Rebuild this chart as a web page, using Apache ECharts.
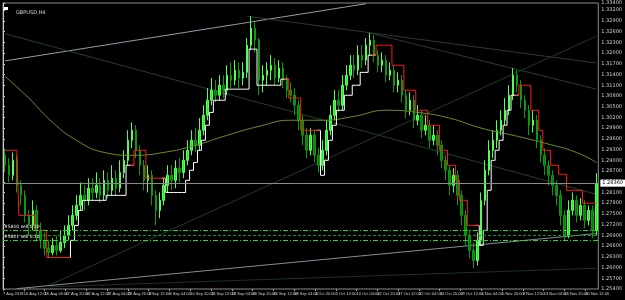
<!DOCTYPE html>
<html>
<head>
<meta charset="utf-8">
<script src="https://cdn.jsdelivr.net/npm/echarts@6/dist/echarts.min.js"></script>
<style>
html, body { margin: 0; padding: 0; background: #000; }
#chart { width: 625px; height: 300px; }
</style>
</head>
<body>
<div id="chart"></div>
<script>
'use strict';

// GBPUSD,H4 - prices, [open, close, low, high]
var candles = [
[1.2914,1.2886,1.2866,1.2934],[1.2886,1.2858,1.2838,1.2906],[1.2858,1.2900,1.2844,1.2922],[1.2900,1.2830,1.2810,1.2914],
[1.2830,1.2802,1.2774,1.2844],[1.2802,1.2746,1.2726,1.2816],[1.2746,1.2718,1.2690,1.2760],[1.2718,1.2760,1.2704,1.2788],
[1.2760,1.2704,1.2676,1.2774],[1.2704,1.2676,1.2654,1.2726],[1.2676,1.2654,1.2634,1.2698],[1.2654,1.2642,1.2626,1.2676],
[1.2642,1.2662,1.2634,1.2682],[1.2662,1.2648,1.2634,1.2690],[1.2648,1.2670,1.2642,1.2704],[1.2670,1.2690,1.2654,1.2718],
[1.2690,1.2718,1.2676,1.2746],[1.2718,1.2746,1.2704,1.2774],[1.2746,1.2774,1.2732,1.2802],[1.2774,1.2802,1.2760,1.2838],
[1.2802,1.2788,1.2760,1.2830],[1.2788,1.2822,1.2774,1.2850],[1.2822,1.2810,1.2788,1.2850],[1.2810,1.2830,1.2794,1.2866],
[1.2830,1.2802,1.2782,1.2850],[1.2802,1.2844,1.2788,1.2872],[1.2844,1.2816,1.2794,1.2866],[1.2816,1.2850,1.2802,1.2886],
[1.2850,1.2822,1.2802,1.2872],[1.2822,1.2866,1.2810,1.2900],[1.2866,1.2900,1.2850,1.2928],[1.2900,1.2956,1.2886,1.2984],
[1.2956,1.2984,1.2934,1.3006],[1.2984,1.2928,1.2906,1.2998],[1.2928,1.2886,1.2858,1.2942],[1.2886,1.2844,1.2816,1.2900],
[1.2844,1.2858,1.2810,1.2886],[1.2858,1.2802,1.2774,1.2872],[1.2802,1.2760,1.2718,1.2816],[1.2760,1.2788,1.2738,1.2810],
[1.2788,1.2830,1.2774,1.2850],[1.2830,1.2858,1.2810,1.2886],[1.2858,1.2844,1.2816,1.2886],[1.2844,1.2878,1.2822,1.2900],
[1.2878,1.2866,1.2838,1.2906],[1.2866,1.2900,1.2850,1.2928],[1.2900,1.2928,1.2886,1.2956],[1.2928,1.2956,1.2914,1.2984],
[1.2956,1.2942,1.2922,1.2990],[1.2942,1.2984,1.2928,1.3018],[1.2984,1.3026,1.2970,1.3054],[1.3026,1.3068,1.3012,1.3102],
[1.3068,1.3096,1.3054,1.3130],[1.3096,1.3082,1.3062,1.3124],[1.3082,1.3110,1.3068,1.3138],[1.3110,1.3096,1.3074,1.3138],
[1.3096,1.3138,1.3082,1.3166],[1.3138,1.3124,1.3102,1.3174],[1.3124,1.3152,1.3110,1.3180],[1.3152,1.3130,1.3102,1.3174],
[1.3130,1.3146,1.3110,1.3174],[1.3146,1.3222,1.3130,1.3242],[1.3222,1.3270,1.3208,1.3303],[1.3270,1.3236,1.3202,1.3286],
[1.3236,1.3124,1.3082,1.3242],[1.3124,1.3138,1.3090,1.3166],[1.3138,1.3152,1.3110,1.3174],[1.3152,1.3166,1.3124,1.3194],
[1.3166,1.3130,1.3110,1.3186],[1.3130,1.3158,1.3118,1.3180],[1.3158,1.3124,1.3102,1.3174],[1.3124,1.3096,1.3074,1.3138],
[1.3096,1.3082,1.3062,1.3118],[1.3082,1.3054,1.3026,1.3102],[1.3054,1.3012,1.2984,1.3068],[1.3012,1.2970,1.2942,1.3026],
[1.2970,1.2928,1.2906,1.2990],[1.2928,1.2970,1.2914,1.2990],[1.2970,1.2914,1.2894,1.2984],[1.2914,1.2886,1.2866,1.2934],
[1.2886,1.2928,1.2872,1.2956],[1.2928,1.2984,1.2914,1.3012],[1.2984,1.3026,1.2970,1.3054],[1.3026,1.3068,1.3012,1.3096],
[1.3068,1.3054,1.3034,1.3096],[1.3054,1.3110,1.3040,1.3138],[1.3110,1.3138,1.3096,1.3166],[1.3138,1.3166,1.3124,1.3194],
[1.3166,1.3152,1.3130,1.3194],[1.3152,1.3194,1.3138,1.3222],[1.3194,1.3180,1.3158,1.3222],[1.3180,1.3222,1.3166,1.3242],
[1.3222,1.3236,1.3194,1.3256],[1.3236,1.3194,1.3174,1.3250],[1.3194,1.3166,1.3146,1.3208],[1.3166,1.3180,1.3146,1.3202],
[1.3180,1.3138,1.3118,1.3194],[1.3138,1.3152,1.3124,1.3174],[1.3152,1.3110,1.3090,1.3166],[1.3110,1.3124,1.3090,1.3146],
[1.3124,1.3082,1.3062,1.3138],[1.3082,1.3040,1.3018,1.3096],[1.3040,1.3068,1.3026,1.3090],[1.3068,1.3012,1.2990,1.3082],
[1.3012,1.3026,1.2998,1.3054],[1.3026,1.2984,1.2962,1.3040],[1.2984,1.2998,1.2970,1.3026],[1.2998,1.2956,1.2934,1.3012],
[1.2956,1.2970,1.2942,1.2998],[1.2970,1.2942,1.2914,1.2984],[1.2942,1.2900,1.2878,1.2956],[1.2900,1.2872,1.2844,1.2914],
[1.2872,1.2830,1.2802,1.2886],[1.2830,1.2858,1.2810,1.2878],[1.2858,1.2802,1.2774,1.2872],[1.2802,1.2746,1.2718,1.2816],
[1.2746,1.2690,1.2662,1.2760],[1.2690,1.2648,1.2626,1.2704],[1.2648,1.2620,1.2598,1.2670],[1.2620,1.2676,1.2606,1.2698],
[1.2676,1.2788,1.2662,1.2810],[1.2788,1.2872,1.2774,1.2900],[1.2872,1.2928,1.2858,1.2956],[1.2928,1.2956,1.2906,1.2984],
[1.2956,1.2984,1.2934,1.3012],[1.2984,1.3012,1.2970,1.3040],[1.3012,1.3040,1.2998,1.3074],[1.3040,1.3082,1.3026,1.3110],
[1.3082,1.3138,1.3068,1.3158],[1.3138,1.3110,1.3090,1.3152],[1.3110,1.3068,1.3046,1.3124],[1.3068,1.3040,1.3018,1.3082],
[1.3040,1.2998,1.2970,1.3054],[1.2998,1.3012,1.2978,1.3040],[1.3012,1.2956,1.2934,1.3026],[1.2956,1.2914,1.2894,1.2970],
[1.2914,1.2886,1.2858,1.2934],[1.2886,1.2858,1.2830,1.2900],[1.2858,1.2830,1.2802,1.2872],[1.2830,1.2802,1.2774,1.2844],
[1.2802,1.2746,1.2718,1.2816],[1.2746,1.2690,1.2676,1.2760],[1.2690,1.2760,1.2682,1.2788],[1.2760,1.2788,1.2746,1.2810],
[1.2788,1.2746,1.2726,1.2802],[1.2746,1.2774,1.2732,1.2794],[1.2774,1.2732,1.2710,1.2788],[1.2732,1.2760,1.2718,1.2774],
[1.2760,1.2704,1.2682,1.2774],[1.2704,1.2836,1.2690,1.2864]
];

// trailing stop steps: [fromBar, toBar, price, up/dn]
var trailSteps = [
[0,3,1.2928,'dn'],[4,7,1.2746,'dn'],[8,10,1.2704,'dn'],[11,16,1.2628,'dn'],
[16,16,1.2628,'up'],[17,17,1.2676,'up'],[18,18,1.2718,'up'],[19,19,1.2760,'up'],[20,25,1.2788,'up'],[26,30,1.2802,'up'],[31,32,1.2886,'up'],
[33,35,1.2928,'dn'],[36,40,1.2850,'dn'],
[41,45,1.2810,'up'],[46,46,1.2844,'up'],[47,47,1.2872,'up'],[48,48,1.2894,'up'],[49,49,1.2928,'up'],[50,50,1.2956,'up'],
[51,51,1.2998,'up'],[52,52,1.3034,'up'],[53,55,1.3068,'up'],[56,61,1.3099,'up'],[62,63,1.3211,'up'],[64,69,1.3110,'up'],[70,71,1.3127,'up'],
[72,74,1.3074,'dn'],[75,79,1.2984,'dn'],
[80,80,1.2858,'up'],[81,81,1.2900,'up'],[82,82,1.2956,'up'],[83,83,1.2998,'up'],[84,85,1.3040,'up'],[86,87,1.3082,'up'],
[88,89,1.3110,'up'],[90,91,1.3146,'up'],[92,93,1.3194,'up'],
[94,97,1.3222,'dn'],[98,100,1.3166,'dn'],[101,103,1.3096,'dn'],[104,106,1.3040,'dn'],[107,109,1.2998,'dn'],[110,111,1.2928,'dn'],
[112,113,1.2886,'dn'],[114,114,1.2844,'dn'],[115,116,1.2788,'dn'],[117,119,1.2718,'dn'],
[120,120,1.2662,'up'],[121,121,1.2704,'up'],[122,122,1.2816,'up'],[123,123,1.2900,'up'],[124,124,1.2928,'up'],[125,125,1.2956,'up'],
[126,126,1.2998,'up'],[127,127,1.3040,'up'],[128,129,1.3082,'up'],
[130,132,1.3110,'dn'],[133,134,1.3040,'dn'],[135,135,1.2984,'dn'],[136,137,1.2928,'dn'],[138,139,1.2886,'dn'],
[140,141,1.2861,'dn'],[142,145,1.2816,'dn'],[146,149,1.2780,'dn']
];

// moving average, [bar, price]
var maLine = [
[0,1.3135],[6,1.3074],[12,1.3006],[18,1.2956],[25,1.2922],[32,1.2914],[40,1.2922],[48,1.2942],[56,1.2970],
[64,1.2995],[72,1.3012],[80,1.3012],[88,1.3023],[96,1.3040],[104,1.3034],[112,1.3018],[120,1.2990],
[128,1.2970],[136,1.2948],[144,1.2922],[149,1.2894]
];

// drawn trend lines: [[bar, price], [bar, price], colour]
var trendLines = [
[[0,1.3178],[91,1.3338],'#9a98a8'],
[[0,1.3254],[149,1.2805],'#22402a'],
[[61,1.3303],[149,1.3172],'#2c3a36'],
[[92,1.3256],[149,1.3099],'#2c3a36'],
[[11,1.2550],[149,1.3247],'#1f3a28'],
[[3,1.2541],[149,1.2695],'#8a8a96'],
[[11,1.2546],[149,1.2598],'#1c3325']
];

var bidPrice = 1.2836;
var levels = [1.2704, 1.2690, 1.2676];
var levelTags = ['#5810 sell 0.10', '', '#5811 sell 0.10'];

var xLabels = ['7 Aug 2018','10 Aug 12:00','15 Aug 04:00','17 Aug 20:00','22 Aug 12:00','27 Aug 04:00','29 Aug 20:00',
'3 Sep 12:00','6 Sep 04:00','10 Sep 20:00','13 Sep 12:00','18 Sep 04:00','20 Sep 20:00','25 Sep 12:00','28 Sep 04:00',
'2 Oct 20:00','5 Oct 12:00','10 Oct 04:00','12 Oct 20:00','17 Oct 12:00','22 Oct 04:00','24 Oct 20:00','29 Oct 12:00',
'1 Nov 04:00','5 Nov 20:00','8 Nov 12:00','13 Nov 04:00','15 Nov 20:00','20 Nov 12:00'];

var N = candles.length;
var cats = [];
for (var i = 0; i < N; i++) cats.push(i);

var up = [], dn = [];
for (var j = 0; j < N; j++) { up.push(null); dn.push(null); }
trailSteps.forEach(function (s, k) {
    var arr = s[3] === 'up' ? up : dn;
    var prev = trailSteps[k - 1];
    if (prev && prev[3] !== s[3]) arr[prev[1]] = prev[2];
    for (var i = s[0]; i <= s[1]; i++) arr[i] = s[2];
});

var FONT = 'DejaVu Sans';
var chart = echarts.init(document.getElementById('chart'), null, { renderer: 'canvas' });

var lineMarks = [{
    yAxis: bidPrice,
    lineStyle: { color: '#8c8c8c', width: 1, type: 'solid' },
    label: {
        show: true, position: 'end', distance: 2,
        formatter: bidPrice.toFixed(5),
        backgroundColor: '#ffffff', color: '#000', padding: [1, 2],
        fontSize: 5, fontFamily: FONT
    }
}];
levels.forEach(function (v, k) {
    lineMarks.push({
        yAxis: v,
        lineStyle: { color: k === 1 ? '#0a9a0a' : '#22dd22', width: 1, type: k === 1 ? [3, 2] : [5, 2, 1, 2] },
        label: {
            show: !!levelTags[k], position: 'insideStartTop', distance: 1,
            formatter: levelTags[k], color: '#ffffff', fontSize: 4.5, fontFamily: FONT
        }
    });
});

var series = [{
    type: 'candlestick',
    data: candles,
    barWidth: 2,
    itemStyle: {
        color: '#22ee22', color0: '#0a7d0a',
        borderColor: '#55ff55', borderColor0: '#0c9a0c', borderWidth: 1
    },
    // precision matters here, the default rounds the price to 2 decimals
    markLine: { silent: true, symbol: 'none', animation: false, precision: 5, data: lineMarks }
}, {
    type: 'line', data: maLine, smooth: true, symbol: 'none',
    lineStyle: { color: '#6b8e23', width: 1 }
}, {
    type: 'line', data: up, step: 'middle', symbol: 'none',
    lineStyle: { color: '#ffffff', width: 1 }
}, {
    type: 'line', data: dn, step: 'middle', symbol: 'none',
    lineStyle: { color: '#ff1a1a', width: 1 }
}];

trendLines.forEach(function (t) {
    series.push({
        type: 'line', data: [t[0], t[1]], symbol: 'none', z: 1,
        lineStyle: { color: t[2], width: 1 }
    });
});

// axis that only carries the time labels
series.push({ type: 'line', xAxisIndex: 1, data: [] });

chart.setOption({
    animation: false,
    backgroundColor: '#000000',
    title: {
        text: 'GBPUSD,H4', left: 11, top: 5,
        textStyle: { color: '#d8d8d8', fontSize: 5, fontWeight: 'normal', fontFamily: FONT }
    },
    graphic: [{ type: 'rect', left: 4, top: 7, shape: { width: 4, height: 3 }, style: { fill: '#ffffff' } }],
    grid: { left: 2, right: 22, top: 3, bottom: 11, show: true, borderColor: '#8a8a8a', borderWidth: 1 },
    xAxis: [{
        type: 'category', data: cats, boundaryGap: true, show: false
    }, {
        type: 'value', min: 0, max: 458, interval: 16, position: 'bottom',
        axisLine: { show: false },
        axisTick: { show: true, length: 2, lineStyle: { color: '#a0a0a0' } },
        splitLine: { show: false },
        axisLabel: {
            color: '#d0d0d0', fontSize: 4, fontFamily: 'Liberation Sans', align: 'left', margin: 3,
            showMinLabel: true, showMaxLabel: false, hideOverlap: false,
            formatter: function (v) { return xLabels[Math.round(v / 16)] || ''; }
        }
    }],
    yAxis: {
        type: 'value', position: 'right', min: 1.2540, max: 1.3340, interval: 0.003,
        axisLine: { show: true, lineStyle: { color: '#c8c8c8' } },
        axisTick: { show: true, length: 2, lineStyle: { color: '#c8c8c8' } },
        splitLine: { show: false },
        axisLabel: {
            color: '#d0d0d0', fontSize: 5, fontFamily: FONT, margin: 3,
            formatter: function (v) { return v.toFixed(5); }
        }
    },
    series: series
});
</script>
</body>
</html>
